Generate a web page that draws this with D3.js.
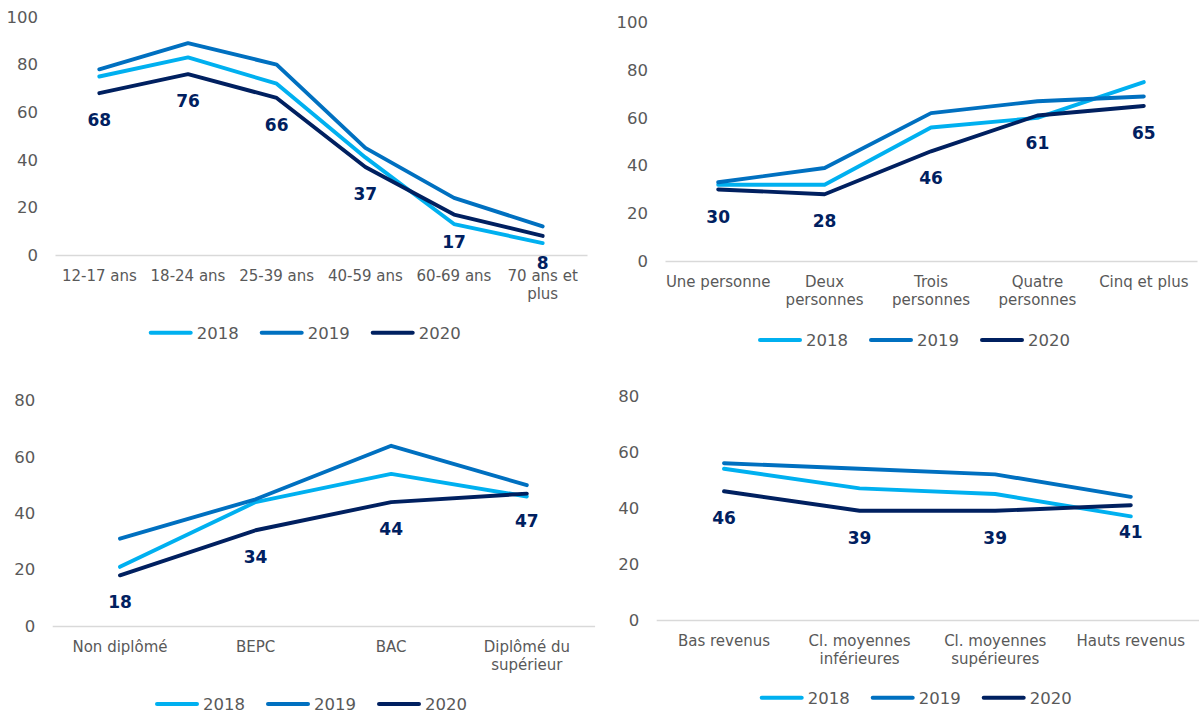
<!DOCTYPE html>
<html><head><meta charset="utf-8">
<script src="https://cdn.jsdelivr.net/npm/d3@7"></script>
<style>body{margin:0;background:#fff}svg{display:block}</style>
</head><body><svg id="c" width="1199" height="716"></svg>
<script>
const years = ["2018","2019","2020"];
const colors = ["#00b0f0","#0070c0","#002060"];

const ageCats = ["12-17 ans","18-24 ans","25-39 ans","40-59 ans","60-69 ans","70 ans et\nplus"];
const age2018 = [75,83,72,41,13,5];
const age2019 = [78,89,80,45,24,12];
const age2020 = [68,76,66,37,17,8];

const foyerCats = ["Une personne","Deux\npersonnes","Trois\npersonnes","Quatre\npersonnes","Cinq et plus"];
const foyer2018 = [32,32,56,60,75];
const foyer2019 = [33,39,62,67,69];
const foyer2020 = [30,28,46,61,65];

const diplCats = ["Non diplômé","BEPC","BAC","Diplômé du\nsupérieur"];
const dipl2018 = [21,44,54,46];
const dipl2019 = [31,45,64,50];
const dipl2020 = [18,34,44,47];

const revCats = ["Bas revenus","Cl. moyennes\ninférieures","Cl. moyennes\nsupérieures","Hauts revenus"];
const rev2018 = [54,47,45,37];
const rev2019 = [56,54,52,44];
const rev2020 = [46,39,39,41];

const ticks100 = [0,20,40,60,80,100];
const ticks80 = [0,20,40,60,80];

const panels = [
  {cats: ageCats, series:[age2018,age2019,age2020], max:100, ticks:ticks100,
   x0:55, x1:587, yb:255, yt:17, legY:332.7, legX:304.7},
  {cats: foyerCats, series:[foyer2018,foyer2019,foyer2020], max:100, ticks:ticks100,
   x0:665, x1:1197, yb:261, yt:22.5, legY:340, legX:914},
  {cats: diplCats, series:[dipl2018,dipl2019,dipl2020], max:80, ticks:ticks80,
   x0:52.2, x1:594.6, yb:626, yt:400.7, legY:704, legX:311},
  {cats: revCats, series:[rev2018,rev2019,rev2020], max:80, ticks:ticks80,
   x0:656.2, x1:1198.6, yb:620, yt:396, legY:697.7, legX:915.7}
];

const FONT = "'DejaVu Sans', Verdana, sans-serif";
const GREY = "#595959";
const svg = d3.select("#c");

panels.forEach(p => {
  const g = svg.append("g");
  const x = d3.scaleBand().domain(p.cats).range([p.x0, p.x1]).padding(0);
  const y = d3.scaleLinear().domain([0, p.max]).range([p.yb, p.yt]);
  const cx = c => x(c) + x.bandwidth()/2;

  // y axis
  const ya = g.append("g").attr("transform", `translate(${p.x0},0)`)
    .call(d3.axisLeft(y).tickValues(p.ticks).tickSize(0).tickPadding(17));
  ya.select(".domain").remove();
  ya.selectAll("text").attr("font-family", FONT).attr("font-size", 16.5).attr("fill", GREY);

  // x axis
  const xa = g.append("g").attr("transform", `translate(0,${p.yb})`)
    .call(d3.axisBottom(x).tickSize(0).tickFormat(""));
  xa.select(".domain").attr("stroke", "#d9d9d9").attr("stroke-width", 1.5);
  xa.selectAll(".tick").each(function(d){
    const t = d3.select(this).append("text")
      .attr("text-anchor","middle").attr("font-family", FONT)
      .attr("font-size", 15).attr("fill", GREY).attr("y", 26);
    d.split("\n").forEach((ln,i) => {
      t.append("tspan").attr("x",0).attr("dy", i===0 ? 0 : 18.3).text(ln);
    });
  });

  // lines
  const line = d3.line().x((v,i)=>cx(p.cats[i])).y(v=>y(v));
  p.series.forEach((s,k) => {
    g.append("path").datum(s).attr("d", line)
      .attr("fill","none").attr("stroke", colors[k]).attr("stroke-width", 3.9)
      .attr("stroke-linejoin","round").attr("stroke-linecap","round");
  });

  // data labels for 2020
  const last = p.series[2];
  g.selectAll(".lbl").data(last).enter().append("text")
    .attr("x",(v,i)=>cx(p.cats[i])).attr("y", v=>y(v)+27).attr("dy","0.36em")
    .attr("text-anchor","middle").attr("font-family", FONT).attr("font-weight","bold")
    .attr("font-size",17).attr("fill","#002060").text(v=>v);

  // legend
  const itemW = 111, total = 3*itemW - 21;
  const lx = p.legX - total/2;
  years.forEach((yr,k) => {
    const sx = lx + k*itemW;
    g.append("line").attr("x1", sx+2).attr("x2", sx+42).attr("y1", p.legY).attr("y2", p.legY)
      .attr("stroke", colors[k]).attr("stroke-width", 4).attr("stroke-linecap","round");
    g.append("text").attr("x", sx+48).attr("y", p.legY).attr("dy","0.36em")
      .attr("font-family", FONT).attr("font-size",16.5).attr("fill",GREY).text(yr);
  });
});
</script></body></html>
